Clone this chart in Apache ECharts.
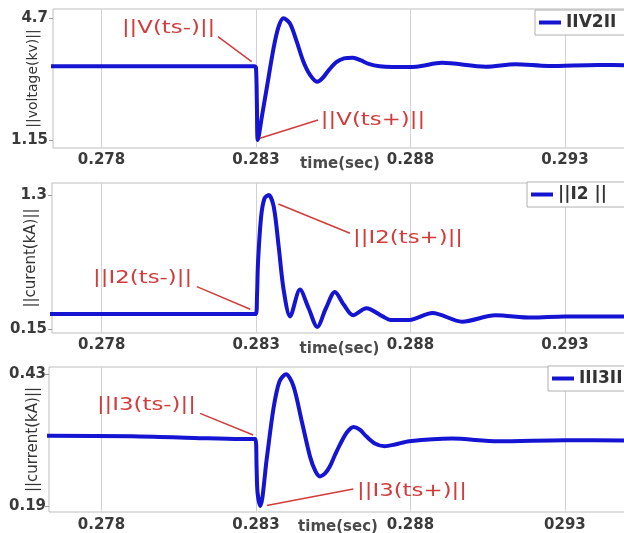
<!DOCTYPE html>
<html><head><meta charset="utf-8">
<script src="https://cdn.jsdelivr.net/npm/echarts@6/dist/echarts.min.js"></script>
<style>html,body{margin:0;padding:0;background:#fff}#c{width:624px;height:533px}</style>
</head><body><div id="c"></div>
<script>
// ---- tick labels ----
const xTickValues = [0.278, 0.283, 0.288, 0.293];
const xTickLabelsUpper = ['0.278', '0.283', '0.288', '0.293'];
const xTickLabelsLower = ['0.278', '0.283', '0.288', '0293'];
const yTicksVoltage = [1.15, 4.7];
const yTicksCurrent2 = [0.15, 1.3];
const yTicksCurrent3 = [0.19, 0.43];

// ---- series values ----
const voltageTime  = [0.2762, 0.2790, 0.2815, 0.28295, 0.28300, 0.28303, 0.28306, 0.28320, 0.28335, 0.28357, 0.28373, 0.28389, 0.28410, 0.28432, 0.28453, 0.28475, 0.28498, 0.28515, 0.28535, 0.28560, 0.28585, 0.28614, 0.28640, 0.28665, 0.28700, 0.28741, 0.28819, 0.28902, 0.29044, 0.29140, 0.29246, 0.29407, 0.29520];
const voltageValue = [3.30, 3.30, 3.30, 3.30, 3.26, 2.20, 1.15, 1.88, 2.67, 3.83, 4.45, 4.70, 4.55, 4.02, 3.45, 3.05, 2.85, 2.95, 3.18, 3.42, 3.53, 3.55, 3.47, 3.37, 3.30, 3.28, 3.29, 3.40, 3.29, 3.36, 3.31, 3.34, 3.33];

const current2Time  = [0.2762, 0.2800, 0.2825, 0.28299, 0.28303, 0.28306, 0.28316, 0.28327, 0.28341, 0.28357, 0.28373, 0.28389, 0.28410, 0.28442, 0.28470, 0.28498, 0.28526, 0.28555, 0.28584, 0.28614, 0.28657, 0.28710, 0.28735, 0.28796, 0.28871, 0.28967, 0.29075, 0.29192, 0.29300, 0.29520];
const current2Value = [0.28, 0.28, 0.28, 0.28, 0.45, 0.715, 1.11, 1.27, 1.30, 1.20, 0.86, 0.49, 0.26, 0.49, 0.33, 0.17, 0.33, 0.47, 0.36, 0.27, 0.33, 0.26, 0.23, 0.23, 0.29, 0.215, 0.27, 0.25, 0.26, 0.26];

const current3Time  = [0.2762, 0.2790, 0.2810, 0.2825, 0.28298, 0.28302, 0.28305, 0.28314, 0.28335, 0.28357, 0.28376, 0.28397, 0.28421, 0.28448, 0.28475, 0.28492, 0.28507, 0.28523, 0.28539, 0.28555, 0.28571, 0.28594, 0.28616, 0.28636, 0.28657, 0.28685, 0.28716, 0.28750, 0.28796, 0.28934, 0.29084, 0.29301, 0.29520];
const current3Value = [0.318, 0.317, 0.314, 0.312, 0.312, 0.26, 0.215, 0.19, 0.277, 0.369, 0.417, 0.43, 0.409, 0.345, 0.280, 0.254, 0.244, 0.249, 0.262, 0.282, 0.301, 0.324, 0.334, 0.329, 0.317, 0.304, 0.299, 0.302, 0.308, 0.313, 0.308, 0.310, 0.309];

const seriesNames = ['IIV2II', '||I2 ||', 'III3II'];
const yAxisNames = ['||voltage(kv)||', '||curent(kA)||', '||current(kA)||'];

// ---- annotations (text anchored at data coords, arrows in data coords) ----
const annotationPanel = [0, 0, 1, 1, 2, 2];
const annotationTexts = ['||V(ts-)||', '||V(ts+)||', '||I2(ts-)||', '||I2(ts+)||', '||I3(ts-)||', '||I3(ts+)||'];
const annotationAnchor = [[0.27866, 4.408], [0.28510, 1.733], [0.27772, 0.587], [0.28614, 0.929], [0.27785, 0.374], [0.28627, 0.216]];
const arrowFrom = [[0.28177, 4.163], [0.28501, 1.733], [0.28108, 0.515], [0.28604, 0.972], [0.28119, 0.3589], [0.28615, 0.221]];
const arrowTo   = [[0.28286, 3.434], [0.28313, 1.199], [0.28281, 0.321], [0.28372, 1.223], [0.28291, 0.3194], [0.28335, 0.191]];

const FONT = '"DejaVu Sans", Verdana, sans-serif';
const BLUE = '#1414d2';
const RED = '#d23c3c';
const X_MAX = 0.29501;

const panels = [
  {left: 53, top: 9, height: 139, xMin: 0.27643, yMin: 0.917, yMax: 4.971, yTicks: yTicksVoltage, xLabels: xTickLabelsUpper,
   times: voltageTime, values: voltageValue, nameSize: 14, nameGap: 13, labelMargin: 5, xMargin: 5, xNameGap: 9, legendLeft: 535, legendTop: 10},
  {left: 52, top: 183, height: 150, xMin: 0.27639, yMin: 0.118, yMax: 1.403, yTicks: yTicksCurrent2, xLabels: xTickLabelsUpper,
   times: current2Time, values: current2Value, nameSize: 15, nameGap: 13, labelMargin: 5, xMargin: 5, xNameGap: 9, legendLeft: 527, legendTop: 182},
  {left: 49, top: 367, height: 145, xMin: 0.27630, yMin: 0.1791, yMax: 0.4433, yTicks: yTicksCurrent3, xLabels: xTickLabelsLower,
   times: current3Time, values: current3Value, nameSize: 15, nameGap: 8, labelMargin: 3, xMargin: 6, xNameGap: 8, legendLeft: 548, legendTop: 366}
];

const chart = echarts.init(document.getElementById('c'), null, {renderer: 'canvas'});

const option = {
  animation: false,
  backgroundColor: '#fff',
  grid: panels.map(p => ({left: p.left, top: p.top, height: p.height, right: -3, show: true,
    borderColor: '#bdbdbd', borderWidth: 1, backgroundColor: 'transparent', containLabel: false, outerBoundsMode: 'none'})),
  xAxis: panels.map((p, i) => ({
    type: 'value', gridIndex: i, min: p.xMin, max: X_MAX,
    axisLine: {show: false},
    axisTick: {show: false, customValues: xTickValues},
    splitLine: {show: true, lineStyle: {color: '#d2d2d2', width: 1}},
    axisLabel: {customValues: xTickValues, margin: p.xMargin, fontFamily: FONT, fontWeight: 'bold', fontSize: 15, color: '#3a3a3a',
      formatter: v => p.xLabels[xTickValues.findIndex(x => Math.abs(x - v) < 1e-7)]},
    name: 'time(sec)', nameLocation: 'middle', nameGap: p.xNameGap, nameMoveOverlap: false,
    nameTextStyle: {fontFamily: FONT, fontWeight: 'bold', fontSize: 15, color: '#4a4a4a', verticalAlign: 'top'}
  })),
  yAxis: panels.map((p, i) => ({
    type: 'value', gridIndex: i, min: p.yMin, max: p.yMax,
    axisLine: {show: false},
    splitLine: {show: false},
    axisTick: {show: true, customValues: p.yTicks, length: 4, lineStyle: {color: '#999'}},
    axisLabel: {customValues: p.yTicks, margin: p.labelMargin, fontFamily: FONT, fontWeight: 'bold', fontSize: 15, color: '#3a3a3a',
      formatter: v => String(p.yTicks.find(t => Math.abs(t - v) < 1e-7))},
    name: yAxisNames[i], nameLocation: 'middle', nameRotate: 90, nameGap: p.nameGap, nameMoveOverlap: false,
    nameTextStyle: {fontFamily: FONT, fontSize: p.nameSize, color: '#333'}
  })),
  legend: panels.map((p, i) => ({
    data: [seriesNames[i]], left: p.legendLeft, top: p.legendTop, icon: 'rect', itemWidth: 22, itemHeight: 4,
    padding: [4, 20, 4, 4], backgroundColor: '#fff', borderColor: '#b0b0b0', borderWidth: 1, selectedMode: false,
    textStyle: {fontFamily: FONT, fontWeight: 'bold', fontSize: 17, color: '#333'}
  })),
  series: panels.map((p, i) => ({
    type: 'line', name: seriesNames[i], xAxisIndex: i, yAxisIndex: i,
    data: p.times.map((t, k) => [t, p.values[k]]),
    symbol: 'none', showSymbol: false, smooth: 0.3,
    lineStyle: {color: BLUE, width: 4}, itemStyle: {color: BLUE},
    markLine: {
      silent: true, symbol: ['none', 'arrow'], symbolSize: [0, 9],
      lineStyle: {color: RED, width: 1.5, type: 'solid'}, label: {show: false},
      emphasis: {disabled: true},
      data: annotationPanel.map((pi, k) => pi === i ? [{coord: arrowFrom[k]}, {coord: arrowTo[k]}] : null).filter(Boolean)
    }
  }))
};
chart.setOption(option);

const texts = annotationTexts.map((txt, k) => {
  const px = chart.convertToPixel({gridIndex: annotationPanel[k]}, annotationAnchor[k]);
  return {type: 'text', x: px[0], y: px[1], scaleX: 1.27, silent: true, z: 100,
    style: {text: txt, x: 0, y: 0, fill: RED, font: '18px ' + FONT, textAlign: 'left', textVerticalAlign: 'middle', align: 'left', verticalAlign: 'middle'}};
});
chart.setOption({graphic: texts});
</script></body></html>
